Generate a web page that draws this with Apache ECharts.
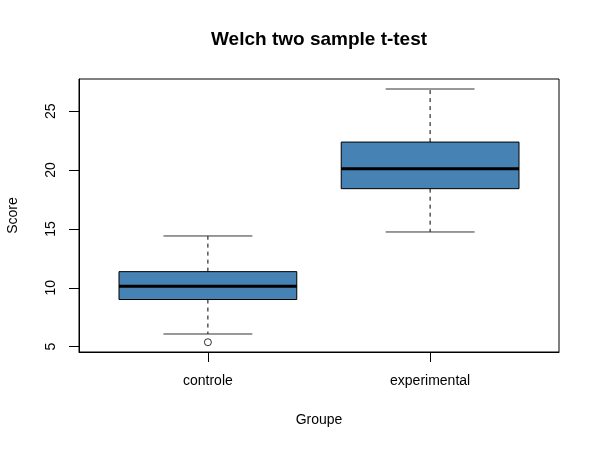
<!DOCTYPE html>
<html>
<head>
<meta charset="utf-8">
<script src="https://cdn.jsdelivr.net/npm/echarts@6/dist/echarts.min.js"></script>
<style>html,body{margin:0;padding:0;background:#fff}#c{width:600px;height:450px}</style>
</head>
<body>
<div id="c"></div>
<script>
// Data
const groups = ['controle', 'experimental'];
const groupPos = [1, 2];
const lowerWhisker = [6.07, 14.74];
const q1 = [9.0, 18.42];
const median = [10.12, 20.12];
const q3 = [11.37, 22.38];
const upperWhisker = [14.40, 26.89];
const outlierGroup = [1];
const outlierValue = [5.37];
const yTicks = [5, 10, 15, 20, 25];

const boxData = groups.map((g, i) => [groupPos[i], lowerWhisker[i], q1[i], median[i], q3[i], upperWhisker[i]]);
const outData = outlierGroup.map((g, i) => [g, outlierValue[i]]);

const FONT = 'Liberation Sans, Arial, Helvetica, sans-serif';
const chart = echarts.init(document.getElementById('c'), null, {renderer: 'canvas'});

function renderBox(params, api) {
  const x = api.value(0);
  const vals = [api.value(1), api.value(2), api.value(3), api.value(4), api.value(5)];
  const pMin = api.coord([x, vals[0]]);
  const pQ1 = api.coord([x, vals[1]]);
  const pMed = api.coord([x, vals[2]]);
  const pQ3 = api.coord([x, vals[3]]);
  const pMax = api.coord([x, vals[4]]);
  const half = api.size([0.4, 0])[0];
  const cap = half / 2;
  const cx = pMed[0];
  return {
    type: 'group',
    children: [
      {type: 'line', shape: {x1: cx, y1: pQ3[1], x2: cx, y2: pMax[1]}, style: {stroke: '#000', lineWidth: 1, lineDash: [4, 4]}},
      {type: 'line', shape: {x1: cx, y1: pQ1[1], x2: cx, y2: pMin[1]}, style: {stroke: '#000', lineWidth: 1, lineDash: [4, 4]}},
      {type: 'line', shape: {x1: cx - cap, y1: pMax[1], x2: cx + cap, y2: pMax[1]}, style: {stroke: '#333', lineWidth: 1}},
      {type: 'line', shape: {x1: cx - cap, y1: pMin[1], x2: cx + cap, y2: pMin[1]}, style: {stroke: '#333', lineWidth: 1}},
      {type: 'rect', shape: {x: cx - half, y: pQ3[1], width: 2 * half, height: pQ1[1] - pQ3[1]}, style: {fill: '#4682B4', stroke: '#000', lineWidth: 1}},
      {type: 'line', shape: {x1: cx - half, y1: pMed[1], x2: cx + half, y2: pMed[1]}, style: {stroke: '#000', lineWidth: 3}}
    ]
  };
}

chart.setOption({
  animation: false,
  backgroundColor: '#fff',
  title: {
    text: 'Welch two sample t-test',
    left: 206,
    top: 25,
    textStyle: {fontFamily: FONT, fontSize: 19, fontWeight: 'bold', color: '#000'}
  },
  grid: {left: 79, right: 41, top: 79, bottom: 98, outerBoundsMode: 'none', containLabel: false, show: true, borderColor: '#000', borderWidth: 1, backgroundColor: 'transparent'},
  xAxis: {
    type: 'value',
    min: 0.42,
    max: 2.58,
    name: 'Groupe',
    nameLocation: 'middle',
    nameGap: 61,
    nameTextStyle: {fontFamily: FONT, fontSize: 14, color: '#000'},
    axisLine: {show: true, onZero: false, lineStyle: {color: '#000'}},
    axisTick: {show: true, length: 10, customValues: groupPos, lineStyle: {color: '#000'}},
    axisLabel: {
      customValues: groupPos, margin: 22,
      fontFamily: FONT, fontSize: 14, color: '#000',
      formatter: v => { const i = groupPos.indexOf(Math.round(v)); return i >= 0 ? groups[i] : ''; }
    },
    splitLine: {show: false}
  },
  yAxis: {
    type: 'value',
    min: 4.54,
    max: 27.74,
    name: 'Score',
    nameLocation: 'middle',
    nameGap: 59,
    nameRotate: 90,
    nameTextStyle: {fontFamily: FONT, fontSize: 14, color: '#000'},
    axisLine: {show: true, onZero: false, lineStyle: {color: '#000'}},
    axisTick: {show: true, length: 10, customValues: yTicks, lineStyle: {color: '#000'}},
    axisLabel: {customValues: yTicks, rotate: 90, margin: 21, fontFamily: FONT, fontSize: 14, color: '#000'},
    splitLine: {show: false}
  },
  series: [
    {
      type: 'custom',
      data: boxData,
      encode: {x: 0, y: [1, 2, 3, 4, 5]},
      renderItem: renderBox,
      clip: false
    },
    {
      type: 'scatter',
      data: outData,
      symbol: 'circle',
      symbolSize: 7,
      itemStyle: {color: '#fff', borderColor: '#000', borderWidth: 1},
      z: 5
    }
  ]
});
</script>
</body>
</html>
